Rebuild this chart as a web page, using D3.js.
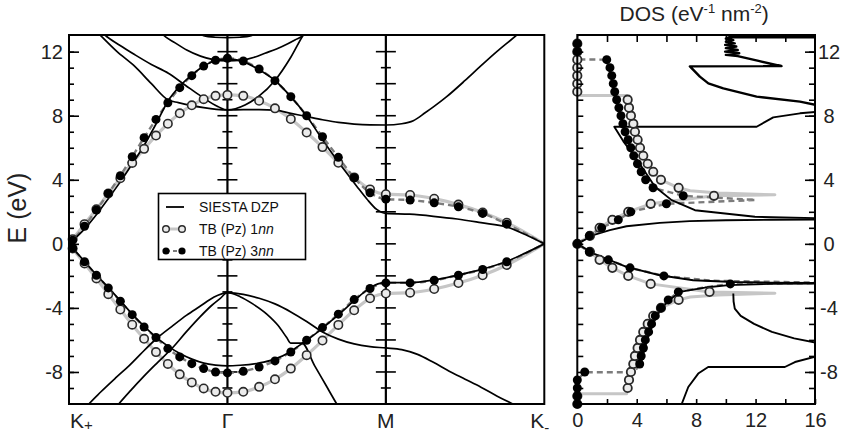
<!DOCTYPE html>
<html lang="en">
<head>
<meta charset="utf-8">
<title>Graphene band structure and DOS</title>
<script src="https://cdn.jsdelivr.net/npm/d3@7/dist/d3.min.js"></script>
<style>
  html, body { margin: 0; padding: 0; background: #fff; }
  svg { display: block; font-family: "Liberation Sans", Arial, Helvetica, sans-serif; }
</style>
</head>
<body>
<svg id="chart" width="844" height="438"></svg>
<script>
// ---------------- data ----------------
// k-path coordinate: 0 = K+, 1 = Γ, 2 = M, 3 = K-
const kPathTicks = [0, 1, 2, 3];
const kPathLabels = ["K", "Γ", "M", "K"];
const kPathSubs = ["+", "", "", "-"];
const energyTicks = [-8, -4, 0, 4, 8, 12];
const dosTicks = [0, 4, 8, 12, 16];

// tight-binding sampling points along the path
const tbK = [0.023, 0.098, 0.173, 0.248, 0.324, 0.399, 0.474, 0.549, 0.624, 0.699, 0.775, 0.850, 0.925, 1.000,
             1.1, 1.2, 1.3, 1.4, 1.5, 1.6, 1.7, 1.8, 1.9, 2.0,
             2.153, 2.305, 2.458, 2.611, 2.763];
const tb1nnUpper = [0.29, 1.23, 2.16, 3.14, 4.1, 5.05, 5.93, 6.76, 7.5, 8.15, 8.65, 9.03, 9.24, 9.3,
                    9.24, 8.93, 8.46, 7.79, 6.95, 6.04, 5.06, 4.15, 3.4, 3.1,
                    3.05, 2.82, 2.45, 1.96, 1.32];
const tb1nnLower = [-0.29, -1.23, -2.16, -3.14, -4.1, -5.05, -5.93, -6.76, -7.5, -8.15, -8.65, -9.03, -9.24, -9.3,
                    -9.24, -8.93, -8.46, -7.79, -6.95, -6.04, -5.06, -4.15, -3.4, -3.1,
                    -3.05, -2.82, -2.45, -1.96, -1.32];
const tb3nnUpper = [0.23, 1.1, 2.11, 3.15, 4.25, 5.44, 6.63, 7.77, 8.81, 9.75, 10.5, 11.1, 11.46, 11.59,
                    11.42, 10.92, 10.19, 9.19, 8.0, 6.69, 5.4, 4.13, 3.19, 2.79,
                    2.73, 2.56, 2.31, 1.9, 1.23];
const tb3nnLower = [-0.27, -1.12, -1.96, -2.75, -3.58, -4.42, -5.19, -5.85, -6.54, -7.06, -7.48, -7.79, -8.0, -8.06,
                    -7.96, -7.69, -7.31, -6.75, -6.02, -5.23, -4.39, -3.48, -2.79, -2.44,
                    -2.44, -2.27, -1.96, -1.6, -1.12];
// Dirac points at both ends of the path
const diracEnds = [[0, 0], [3, 0]];

// SIESTA DZP bands, [k, E]
const siestaPi = [[0,0],[0.1,-1.12],[0.175,-1.96],[0.25,-2.75],[0.326,-3.58],[0.4,-4.4],[0.475,-5.15],[0.553,-5.85],
  [0.627,-6.4],[0.7,-6.85],[0.776,-7.2],[0.851,-7.45],[0.925,-7.57],[1.0,-7.62],[1.08,-7.58],[1.2,-7.44],[1.29,-7.23],
  [1.395,-6.75],[1.469,-6.23],[1.563,-5.56],[1.65,-4.85],[1.71,-4.35],[1.8,-3.55],[1.9,-2.75],[1.95,-2.5],[2.0,-2.42],
  [2.152,-2.42],[2.304,-2.25],[2.457,-1.95],[2.609,-1.58],[2.763,-1.1],[2.88,-0.58],[3.0,0]];
const siestaPiStar = [[0,0],[0.1,0.95],[0.175,1.85],[0.25,2.85],[0.326,3.9],[0.4,5.0],[0.469,6.06],[0.55,7.5],
  [0.627,8.95],[0.7,9.85],[0.776,10.55],[0.851,11.1],[0.925,11.45],[1.0,11.55],[1.1,11.38],[1.195,10.9],[1.3,10.2],
  [1.4,9.19],[1.5,7.98],[1.6,6.5],[1.69,5.25],[1.75,4.45],[1.816,3.6],[1.88,2.8],[1.942,2.15],[2.0,1.9],
  [2.15,1.85],[2.3,1.72],[2.45,1.55],[2.6,1.32],[2.763,1.05],[2.88,0.58],[3.0,0]];
const siestaSigmaOuter = [[0.1,-10.3],[0.122,-10.04],[0.2,-9.25],[0.301,-8.31],[0.38,-7.6],[0.45,-6.9],[0.553,-5.91],
  [0.65,-5.15],[0.743,-4.45],[0.827,-3.9],[0.911,-3.35],[1.0,-3.05],[1.1,-3.15],[1.2,-3.4],[1.3,-3.75],[1.4,-4.25],
  [1.5,-4.85],[1.6,-5.5],[1.7,-5.95],[1.8,-6.25],[1.9,-6.42],[2.0,-6.5],[2.1,-6.6],[2.2,-6.9],[2.3,-7.4],[2.4,-7.95],
  [2.5,-8.45],[2.6,-8.95],[2.7,-9.5],[2.804,-10.02],[2.85,-10.3]];
const siestaSigmaInner = [[0.29,-10.3],[0.311,-10.04],[0.39,-9.15],[0.469,-8.31],[0.56,-7.4],[0.658,-6.44],[0.74,-5.5],
  [0.827,-4.56],[0.9,-3.85],[0.953,-3.42],[1.0,-3.05],[1.08,-3.3],[1.16,-3.75],[1.25,-4.4],[1.32,-5.1],[1.374,-5.85],
  [1.4,-6.2],[1.47,-6.2],[1.55,-7.6],[1.62,-8.8],[1.69,-10.0],[1.72,-10.5]];
const siestaSigmaStarA = [[0.18,13.2],[0.196,13.04],[0.3,12.03],[0.417,11.06],[0.52,10.0],[0.627,8.98],[0.69,8.82],
  [0.76,8.66],[0.85,8.5],[0.93,8.4],[1.0,8.36],[1.1,8.38],[1.2,8.38],[1.3,8.35],[1.4,8.15],[1.5,7.95],[1.6,7.75],
  [1.7,7.58],[1.8,7.48],[1.9,7.43],[2.0,7.42],[2.1,7.5],[2.173,7.69],[2.25,8.2],[2.3,8.55],[2.384,9.19],[2.5,10.2],
  [2.594,11.06],[2.7,12.0],[2.826,13.04],[2.85,13.25]];
const siestaSigmaStarB = [[0.21,13.2],[0.227,13.04],[0.32,12.4],[0.417,11.8],[0.52,11.2],[0.627,10.65],[0.732,9.92],
  [0.837,9.19],[0.942,8.56],[1.0,8.36],[1.111,8.67],[1.195,9.19],[1.3,10.2],[1.4,11.65],[1.479,13.04],[1.49,13.2]];
const siestaUpperBowl = [[0.58,13.2],[0.595,13.04],[0.67,12.55],[0.743,12.1],[0.83,11.72],[0.911,11.5],[1.0,11.42],
  [1.09,11.47],[1.17,11.65],[1.237,11.9],[1.342,12.31],[1.426,12.73],[1.479,13.04],[1.49,13.2]];
const siestaTopBowl = [[0.8,13.2],[0.85,13.0],[0.92,12.9],[1.0,12.87],[1.08,12.9],[1.15,13.0],[1.2,13.2]];
const siestaBands = [siestaPi, siestaPiStar, siestaSigmaOuter, siestaSigmaInner,
                     siestaSigmaStarA, siestaSigmaStarB, siestaUpperBowl, siestaTopBowl];

// DOS sampling energies (eV) and TB DOS values at them
const dosEnergy = [-10,-9.5,-9,-8.5,-8,-7.5,-7,-6.5,-6,-5.5,-5,-4.5,-4,-3.5,-3,-2.5,-2,-1.5,-1,-0.5,
                   0,0.5,1,1.5,2,2.5,3,3.5,4,4.5,5,5.5,6,6.5,7,7.5,8,8.5,9,9.5,10,10.5,11,11.5,12,12.5];
const dos1nnMarks = [0,0,3.39,3.48,3.61,3.77,3.88,4.06,4.22,4.44,4.74,5.11,5.63,6.82,8.9,4.94,3.43,2.36,1.5,0.85,
                     0,0.85,1.5,2.36,3.43,4.94,9.2,6.82,5.63,5.11,4.74,4.44,4.22,4.06,3.88,3.77,3.61,3.48,3.39,
                     0,0,0,0,0,0,0];
const dos3nnMarks = [0,0,0,0,0.5,4.2,4.3,4.45,4.58,4.8,5.0,5.25,5.63,6.12,6.8,10.3,5.83,3.55,2.09,0.81,
                     0,0.81,1.64,2.76,3.6,6.0,7.13,5.1,4.6,4.3,4.05,3.8,3.6,3.42,3.22,3.07,2.94,2.8,2.65,
                     2.52,2.42,2.32,2.2,1.98,0,0];
// TB DOS curves, [DOS, E]
const dos1nnCurve = [[0,-10.2],[0,-9.36],[3.32,-9.36],[3.39,-9],[3.48,-8.5],[3.61,-8],[3.77,-7.5],[3.88,-7],[4.06,-6.5],
  [4.22,-6],[4.44,-5.5],[4.74,-5],[5.11,-4.5],[5.63,-4],[6.82,-3.5],[7.6,-3.32],[9.5,-3.2],[13.3,-3.08],[8.9,-3.0],
  [4.94,-2.5],[3.43,-2],[2.36,-1.5],[1.5,-1],[0.85,-0.5],[0,0],[0.85,0.5],[1.5,1],[2.36,1.5],[3.43,2],[4.94,2.5],
  [9.2,3.0],[13.3,3.06],[9.5,3.18],[7.6,3.32],[6.82,3.5],[5.63,4],[5.11,4.5],[4.74,5],[4.44,5.5],[4.22,6],[4.06,6.5],
  [3.88,7],[3.77,7.5],[3.61,8],[3.48,8.5],[3.39,9],[3.32,9.26],[0,9.26],[0,13.1]];
const dos3nnCurve = [[0,-10.2],[0,-8.5],[0.5,-8.02],[3.66,-8.02],[4.0,-7.8],[4.2,-7.5],[4.3,-7],[4.45,-6.5],[4.58,-6],
  [4.8,-5.5],[5.0,-5],[5.25,-4.5],[5.63,-4],[6.12,-3.5],[6.8,-3.0],[8.6,-2.72],[10.3,-2.5],[16.2,-2.45],[16.2,-2.42],
  [9.0,-2.3],[5.83,-2.0],[3.55,-1.5],[2.09,-1],[0.81,-0.5],[0,0],[0.81,0.5],[1.64,1],[2.76,1.5],[3.6,2],[6.0,2.5],
  [12.0,2.74],[7.13,3.0],[5.1,3.5],[4.6,4],[4.3,4.5],[4.05,5],[3.8,5.5],[3.6,6],[3.42,6.5],[3.22,7],[3.07,7.5],
  [2.94,8],[2.8,8.5],[2.65,9],[2.52,9.5],[2.42,10],[2.32,10.5],[2.2,11],[1.98,11.5],[0,11.52],[0,13.1]];
// SIESTA DOS branches, [DOS, E]
const dosSiestaFermi = [[16.2,1.52],[13,1.5],[10,1.47],[7.56,1.42],[5.55,1.31],[3.31,1.1],[2.19,0.86],[1.07,0.54],[0,0],
  [1.07,-0.6],[3.31,-1.44],[5.55,-1.96],[7.8,-2.27],[10.5,-2.38],[13,-2.42],[16.2,-2.44]];
const dosSiestaConduction = [[16.2,1.6],[11.96,1.69],[7.92,2.1],[6.35,2.73],[5.23,3.56],[3.88,5.44],[3.1,6.4],[2.49,7.31],
  [12.07,7.31],[13.19,7.9],[14.99,8.15],[16.2,8.25]];
const dosSiestaHigh = [[16.2,8.65],[14.99,8.88],[12.07,9.19],[9.83,9.71],[8.82,10.02],[8.25,10.44],[7.58,11.08],[13.75,11.1],
  [12.2,11.42],[10.8,11.72],[10.0,11.8],[10.9,11.9],[9.95,12.0],[10.8,12.1],[10.0,12.22],[10.7,12.32],[9.95,12.42],
  [10.6,12.52],[10.0,12.62],[10.5,12.72],[10.0,12.82],[10.2,12.9],[16.2,12.9]];
const dosSiestaValence = [[16.2,-2.47],[13,-2.5],[10.2,-2.58],[8.6,-2.73],[6.9,-3.0],[6.2,-3.5],[5.7,-4.0],[5.35,-4.5],
  [5.1,-5.0],[4.9,-5.5],[4.7,-6.0],[4.55,-6.5],[4.4,-7.0],[4.3,-7.4],[4.2,-7.62]];
const dosSiestaSigma = [[10.5,-3.1],[10.52,-3.6],[10.6,-4.04],[11.0,-4.5],[11.9,-5.0],[13.1,-5.5],[14.6,-5.9],[16.2,-6.2]];
const dosSiestaSigmaLow = [[6.9,-10.3],[7.02,-10.02],[7.47,-8.94],[8.14,-8.1],[8.81,-7.69],[13.97,-7.69],[14.65,-7.38],[16.2,-7.0]];
const dosSiesta = [dosSiestaFermi, dosSiestaConduction, dosSiestaHigh, dosSiestaValence, dosSiestaSigma, dosSiestaSigmaLow];

// ---------------- styles ----------------
const C1NN = "#c6c6c6";
const C3NN = "#7c7c7c";
const FRAME_W = 2;
const FONT = "'Liberation Sans', Arial, sans-serif";
const plainNumber = d => String(d);   // keep ASCII hyphen for negatives

// ---------------- scales ----------------
const svg = d3.select("#chart");
const kx = d3.scaleLinear().domain([0, 3]).range([69, 544.3]);
const ey = d3.scaleLinear().domain([-10, 13.04]).range([404, 35]);
const dx = d3.scaleLinear().domain([0, 16]).range([577.3, 815]);

const defs = svg.append("defs");
defs.append("clipPath").attr("id", "clipBands").append("rect")
  .attr("x", kx(0)).attr("y", ey(13.04)).attr("width", kx(3) - kx(0)).attr("height", ey(-10) - ey(13.04));
defs.append("clipPath").attr("id", "clipDos").append("rect")
  .attr("x", dx(0)).attr("y", ey(13.04)).attr("width", dx(16) - dx(0)).attr("height", ey(-10) - ey(13.04));

const bandLine = d3.line().x(d => kx(d[0])).y(d => ey(d[1])).curve(d3.curveMonotoneX);
const dosLine = d3.line().x(d => dx(d[0])).y(d => ey(d[1]));

// ================= band structure panel =================
const bands = svg.append("g");

// Γ and M guide lines with cross ticks
const guideG = bands.append("g");
[1, 2].forEach(k => {
  guideG.append("line").attr("x1", kx(k)).attr("x2", kx(k)).attr("y1", ey(-10)).attr("y2", ey(13.04))
    .attr("stroke", "#000").attr("stroke-width", 2.2);
  d3.range(-9, 13).forEach(e => {
    const half = (e % 2 === 0) ? 10 : 5;
    guideG.append("line").attr("x1", kx(k) - half).attr("x2", kx(k) + half)
      .attr("y1", ey(e)).attr("y2", ey(e)).attr("stroke", "#000").attr("stroke-width", 1.6);
  });
});

const tbLineData = (vals) => [diracEnds[0], ...tbK.map((k, i) => [k, vals[i]]), diracEnds[1]];

const clipped = bands.append("g").attr("clip-path", "url(#clipBands)");
[tb1nnUpper, tb1nnLower].forEach(v => {
  clipped.append("path").attr("d", bandLine(tbLineData(v))).attr("fill", "none")
    .attr("stroke", C1NN).attr("stroke-width", 3.2);
});
[tb3nnUpper, tb3nnLower].forEach(v => {
  clipped.append("path").attr("d", bandLine(tbLineData(v))).attr("fill", "none")
    .attr("stroke", C3NN).attr("stroke-width", 2.4).attr("stroke-dasharray", "6,4");
});
siestaBands.forEach(b => {
  clipped.append("path").attr("d", bandLine(b)).attr("fill", "none")
    .attr("stroke", "#000").attr("stroke-width", 1.7).attr("stroke-linejoin", "round");
});

const markG = bands.append("g");
[tb1nnUpper, tb1nnLower].forEach(v => {
  markG.selectAll(null).data(tbK.map((k, i) => [k, v[i]])).join("circle")
    .attr("cx", d => kx(d[0])).attr("cy", d => ey(d[1])).attr("r", 4.2)
    .attr("fill", "#ebebeb").attr("stroke", "#2a2a2a").attr("stroke-width", 1.6);
});
[tb3nnUpper, tb3nnLower].forEach(v => {
  markG.selectAll(null).data(tbK.map((k, i) => [k, v[i]])).join("circle")
    .attr("cx", d => kx(d[0])).attr("cy", d => ey(d[1])).attr("r", 4.5).attr("fill", "#000");
});

// legend
const lg = bands.append("g");
lg.append("rect").attr("x", 158.5).attr("y", 193.5).attr("width", 147).attr("height", 66)
  .attr("fill", "#fff").attr("stroke", "#000").attr("stroke-width", 1.6);
const legendRows = [
  { y: 207, kind: "siesta", text: ["SIESTA DZP", ""] },
  { y: 229, kind: "tb1", text: ["TB (Pz) 1", "nn"] },
  { y: 251, kind: "tb3", text: ["TB (Pz) 3", "nn"] }
];
legendRows.forEach(r => {
  if (r.kind === "siesta") {
    lg.append("line").attr("x1", 166).attr("x2", 184).attr("y1", r.y).attr("y2", r.y)
      .attr("stroke", "#000").attr("stroke-width", 1.8);
  } else if (r.kind === "tb1") {
    lg.append("line").attr("x1", 166).attr("x2", 182).attr("y1", r.y).attr("y2", r.y)
      .attr("stroke", C1NN).attr("stroke-width", 3);
    [166, 182].forEach(x => lg.append("circle").attr("cx", x).attr("cy", r.y).attr("r", 3.3)
      .attr("fill", "#ebebeb").attr("stroke", "#2a2a2a").attr("stroke-width", 1.4));
  } else {
    lg.append("line").attr("x1", 166).attr("x2", 182).attr("y1", r.y).attr("y2", r.y)
      .attr("stroke", C3NN).attr("stroke-width", 2.2).attr("stroke-dasharray", "4,3");
    [166, 182].forEach(x => lg.append("circle").attr("cx", x).attr("cy", r.y).attr("r", 3.6).attr("fill", "#000"));
  }
  const t = lg.append("text").attr("x", 199).attr("y", r.y + 5).attr("font-size", 14).attr("fill", "#111");
  t.append("tspan").text(r.text[0]);
  if (r.text[1]) t.append("tspan").attr("font-style", "italic").text(r.text[1]);
});

// frame and energy axis
bands.append("rect").attr("x", kx(0)).attr("y", ey(13.04)).attr("width", kx(3) - kx(0))
  .attr("height", ey(-10) - ey(13.04)).attr("fill", "none").attr("stroke", "#000").attr("stroke-width", FRAME_W);

const leftMinor = d3.axisLeft(ey).tickValues(d3.range(-9, 13)).tickSizeInner(-5).tickSizeOuter(0).tickFormat("");
const leftMajor = d3.axisLeft(ey).tickValues(energyTicks).tickSizeInner(-10).tickSizeOuter(0).tickPadding(6)
  .tickFormat(plainNumber);
[leftMinor, leftMajor].forEach(ax => {
  const g = bands.append("g").attr("transform", `translate(${kx(0)},0)`).call(ax);
  g.select(".domain").remove();
  g.selectAll(".tick line").attr("stroke", "#000").attr("stroke-width", 1.6);
  g.selectAll("text").attr("font-size", 20).attr("fill", "#222").attr("font-family", FONT);
});

// k-path labels
kPathTicks.forEach((k, i) => {
  let x = kx(k), anchor = "middle";
  if (i === 0) { x = kx(k) + 1; anchor = "start"; }
  if (i === 3) { x = kx(k) + 5; anchor = "end"; }
  const t = bands.append("text").attr("x", x).attr("y", 428).attr("text-anchor", anchor)
    .attr("font-size", 21).attr("fill", "#222");
  t.append("tspan").text(kPathLabels[i]);
  if (kPathSubs[i]) t.append("tspan").attr("font-size", 15).attr("dy", kPathSubs[i] === "+" ? 2 : 5).text(kPathSubs[i]);
});

bands.append("text").attr("transform", "translate(26,208) rotate(-90)").attr("text-anchor", "middle")
  .attr("font-size", 25).attr("fill", "#222").text("E (eV)");

// ================= DOS panel =================
const dosG = svg.append("g");
const dosClip = dosG.append("g").attr("clip-path", "url(#clipDos)");
dosClip.append("path").attr("d", dosLine(dos1nnCurve)).attr("fill", "none")
  .attr("stroke", C1NN).attr("stroke-width", 3).attr("stroke-linejoin", "round");
dosClip.append("path").attr("d", dosLine(dos3nnCurve)).attr("fill", "none")
  .attr("stroke", C3NN).attr("stroke-width", 2.4).attr("stroke-dasharray", "6,4");
dosSiesta.forEach((seg, i) => {
  dosClip.append("path").attr("d", dosLine(seg)).attr("fill", "none")
    .attr("stroke", "#000").attr("stroke-width", i === 2 ? 2.4 : 1.9).attr("stroke-linejoin", "round");
});

dosG.selectAll(null).data(dosEnergy.map((e, i) => [dos1nnMarks[i], e])).join("circle")
  .attr("cx", d => dx(d[0])).attr("cy", d => ey(d[1])).attr("r", 4.2)
  .attr("fill", "#ebebeb").attr("stroke", "#2a2a2a").attr("stroke-width", 1.8);
dosG.selectAll(null).data(dosEnergy.map((e, i) => [dos3nnMarks[i], e])).join("circle")
  .attr("cx", d => dx(d[0])).attr("cy", d => ey(d[1])).attr("r", 4.5).attr("fill", "#000");

dosG.append("rect").attr("x", dx(0)).attr("y", ey(13.04)).attr("width", dx(16) - dx(0))
  .attr("height", ey(-10) - ey(13.04)).attr("fill", "none").attr("stroke", "#000").attr("stroke-width", FRAME_W);

// DOS axes
const styleAxis = (g, size) => {
  g.select(".domain").remove();
  g.selectAll(".tick line").attr("stroke", "#000").attr("stroke-width", 1.6);
  g.selectAll("text").attr("font-size", size).attr("fill", "#222").attr("font-family", FONT);
};
const bottomAx = d3.axisBottom(dx).tickValues(dosTicks).tickSizeInner(-5).tickSizeOuter(0).tickPadding(9)
  .tickFormat(plainNumber);
styleAxis(dosG.append("g").attr("transform", `translate(0,${ey(-10)})`).call(bottomAx), 20);
const bottomMinor = d3.axisBottom(dx).tickValues([2, 6, 10, 14]).tickSizeInner(-5).tickSizeOuter(0).tickFormat("");
styleAxis(dosG.append("g").attr("transform", `translate(0,${ey(-10)})`).call(bottomMinor), 20);
const topAx = d3.axisTop(dx).tickValues([2, 4, 6, 8, 10, 12, 14]).tickSizeInner(-7).tickSizeOuter(0).tickFormat("");
styleAxis(dosG.append("g").attr("transform", `translate(0,${ey(13.04)})`).call(topAx), 20);

const dosLeftMinor = d3.axisLeft(ey).tickValues(d3.range(-9, 13)).tickSizeInner(-6).tickSizeOuter(0).tickFormat("");
styleAxis(dosG.append("g").attr("transform", `translate(${dx(0)},0)`).call(dosLeftMinor), 20);
const dosRightMinor = d3.axisRight(ey).tickValues(d3.range(-9, 13)).tickSizeInner(-6).tickSizeOuter(0).tickFormat("");
styleAxis(dosG.append("g").attr("transform", `translate(${dx(16)},0)`).call(dosRightMinor), 20);
const dosRightMajor = d3.axisRight(ey).tickValues(energyTicks).tickSizeInner(-10).tickSizeOuter(0).tickPadding(14)
  .tickFormat(plainNumber);
const rg = dosG.append("g").attr("transform", `translate(${dx(16)},0)`).call(dosRightMajor);
styleAxis(rg, 20);
rg.selectAll("text").attr("text-anchor", "middle");

const title = dosG.append("text").attr("x", (dx(0) + dx(16)) / 2 - 2).attr("y", 21)
  .attr("text-anchor", "middle").attr("font-size", 21).attr("fill", "#222");
title.append("tspan").text("DOS (eV");
title.append("tspan").attr("font-size", 13).attr("dy", -8).text("-1");
title.append("tspan").attr("dy", 8).text(" nm");
title.append("tspan").attr("font-size", 13).attr("dy", -8).text("-2");
title.append("tspan").attr("dy", 8).text(")");
</script>
</body>
</html>
